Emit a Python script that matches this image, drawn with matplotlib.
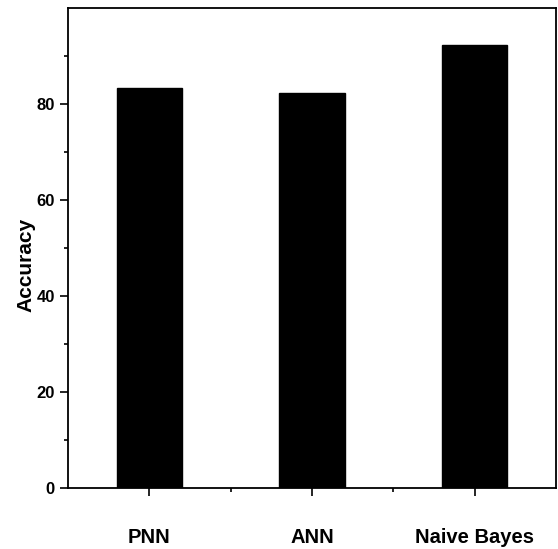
import matplotlib
matplotlib.use('Agg')
import matplotlib.pyplot as plt
from matplotlib.ticker import FixedLocator

# dados
modelos = ['PNN', 'ANN', 'Naive Bayes']
acuracia = [83.3, 82.3, 92.3]
posicoes = [1, 2, 3]

plt.rcParams['font.family'] = ['Liberation Sans', 'DejaVu Sans']

fig = plt.figure(figsize=(5.58, 5.49), dpi=100)
ax = fig.add_axes([68 / 558, 1 - 488 / 549, (556 - 68) / 558, (488 - 8) / 549])

ax.bar(posicoes, acuracia, width=0.4, color='black', edgecolor='black')

ax.set_xlim(0.5, 3.5)
ax.set_ylim(0, 100)

# ticks principais e secundarios
ax.xaxis.set_major_locator(FixedLocator(posicoes))
ax.xaxis.set_minor_locator(FixedLocator([1.5, 2.5]))
ax.set_xticklabels(modelos, fontsize=14.5, fontweight='bold')
ax.yaxis.set_major_locator(FixedLocator([0, 20, 40, 60, 80]))
ax.yaxis.set_minor_locator(FixedLocator([10, 30, 50, 70, 90]))
ax.tick_params(axis='y', labelsize=12)
for lbl in ax.get_yticklabels():
    lbl.set_fontweight('bold')

ax.tick_params(axis='both', which='major', direction='out', length=5.5, width=1.2)
ax.tick_params(axis='both', which='minor', direction='out', length=3, width=1.2)
ax.tick_params(axis='x', which='major', pad=23)
ax.tick_params(axis='y', which='major', pad=4)

for s in ax.spines.values():
    s.set_linewidth(1.3)

ax.set_ylabel('Accuracy', fontsize=15, fontweight='bold')
ax.yaxis.set_label_coords(-0.066, 0.465)

plt.savefig('out.png', dpi=100)
